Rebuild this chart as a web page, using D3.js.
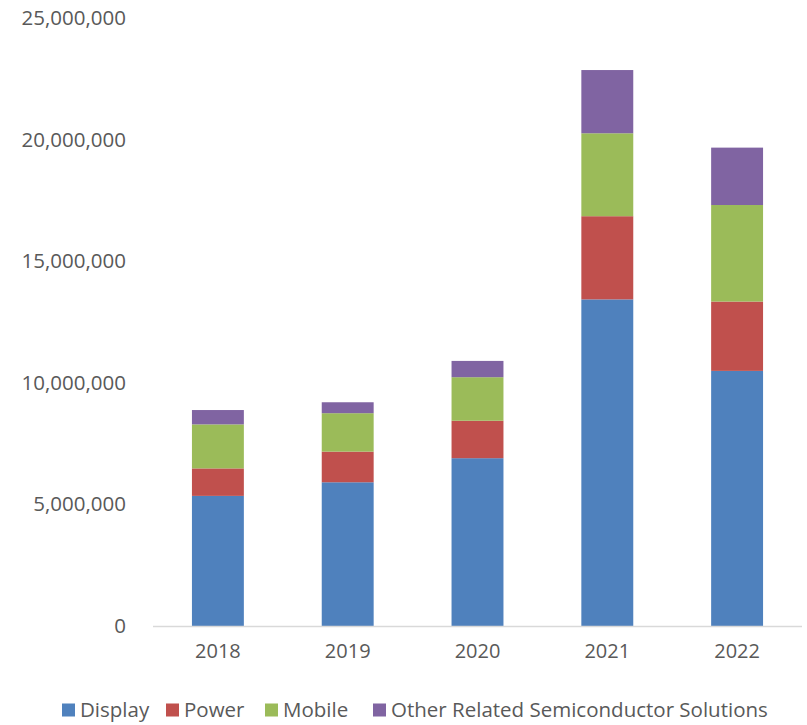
<!DOCTYPE html>
<html>
<head>
<meta charset="utf-8">
<script src="https://cdn.jsdelivr.net/npm/d3@7/dist/d3.min.js"></script>
<style>
  html, body { margin: 0; padding: 0; background: #fff; }
  svg { display: block; font-family: "Open Sans", "Liberation Sans", sans-serif; }
</style>
</head>
<body>
<svg id="chart" width="807" height="725"></svg>
<script>
// Yearly revenue by business segment
const years = ["2018", "2019", "2020", "2021", "2022"];
const seriesNames = ["Display", "Power", "Mobile", "Other Related Semiconductor Solutions"];
const display = [5350000, 5910000, 6900000, 13430000, 10490000];
const power   = [1130000, 1260000, 1540000, 3420000, 2850000];
const mobile  = [1810000, 1580000, 1790000, 3410000, 3970000];
const other   = [590000, 450000, 670000, 2600000, 2360000];
const yTicks  = [0, 5000000, 10000000, 15000000, 20000000, 25000000];
const colors  = ["#4F81BD", "#C0504D", "#9BBB59", "#8064A2"];

const seriesValues = [display, power, mobile, other];
const rows = years.map((y, i) => {
  const r = { year: y };
  seriesNames.forEach((s, j) => { r[s] = seriesValues[j][i]; });
  return r;
});

const svg = d3.select("#chart");
const margin = { left: 153, right: 5, top: 18, bottom: 99 };
const W = 807, H = 725;

const x = d3.scaleBand()
  .domain(years)
  .range([margin.left, W - margin.right])
  .paddingInner(0.6)
  .paddingOuter(0.3);

const y = d3.scaleLinear()
  .domain([0, 25000000])
  .range([H - margin.bottom, margin.top]);

const stack = d3.stack().keys(seriesNames)(rows);

// stacked bars
svg.append("g")
  .selectAll("g")
  .data(stack)
  .join("g")
  .attr("fill", (d, i) => colors[i])
  .selectAll("rect")
  .data(d => d)
  .join("rect")
  .attr("x", d => x(d.data.year))
  .attr("width", x.bandwidth())
  .attr("y", d => y(d[1]))
  .attr("height", d => y(d[0]) - y(d[1]));

// y axis labels (no axis line, no ticks)
const fmt = d3.format(",");
const yAxis = svg.append("g")
  .attr("transform", `translate(${margin.left - 27},0)`)
  .call(d3.axisLeft(y).tickValues(yTicks).tickFormat(fmt).tickSize(0).tickPadding(0));
yAxis.select(".domain").remove();
yAxis.selectAll("text")
  .attr("fill", "#595959")
  .style("font-size", "20.5px")
  .style("font-family", "'Open Sans', sans-serif");

// x axis with light baseline
const xAxis = svg.append("g")
  .attr("transform", `translate(0,${y(0)})`)
  .call(d3.axisBottom(x).tickSize(0).tickPadding(18));
xAxis.select(".domain")
  .attr("stroke", "#D9D9D9")
  .attr("stroke-width", 1.3)
  .attr("d", `M${margin.left},0.5H${W - margin.right}`);
xAxis.selectAll("text")
  .attr("fill", "#595959")
  .style("font-size", "20px")
  .style("font-family", "'Open Sans', sans-serif");

// legend
const legendX = [62, 166, 265, 373];
const legend = svg.append("g").attr("transform", "translate(0,710)");
seriesNames.forEach((s, i) => {
  const g = legend.append("g").attr("transform", `translate(${legendX[i]},0)`);
  g.append("rect").attr("x", 0).attr("y", -6.5).attr("width", 13).attr("height", 13).attr("fill", colors[i]);
  g.append("text")
    .attr("x", 18)
    .attr("y", 0)
    .attr("dy", "0.35em")
    .attr("fill", "#595959")
    .style("font-size", "20.5px")
    .text(s);
});
</script>
</body>
</html>
